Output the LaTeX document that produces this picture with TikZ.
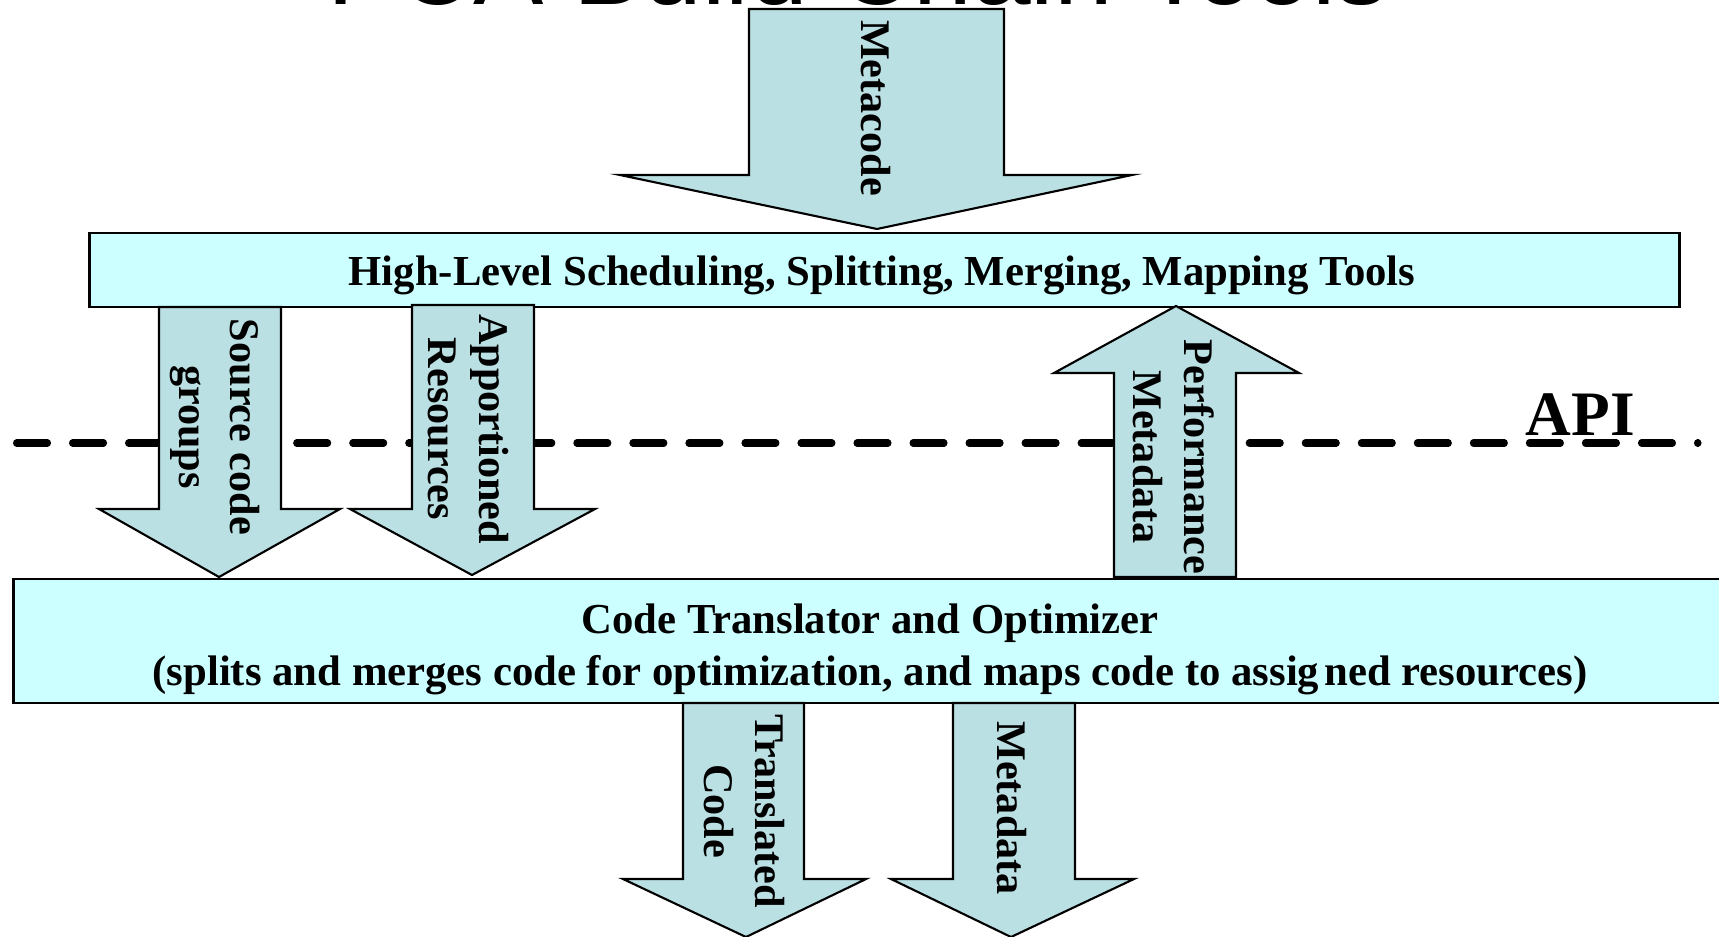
\documentclass[tikz,border=0pt]{standalone}
\usepackage{fontspec}
\setmainfont{Liberation Serif}
\newfontfamily\titlefont{Liberation Sans}
\usepackage{xcolor}
\usepackage{tikz}

\definecolor{boxcyan}{RGB}{204,255,255}
\definecolor{arrowcyan}{RGB}{187,224,227}

\begin{document}
\begin{tikzpicture}[
  x=0.01cm, y=-0.01cm,
  layer/.style={draw, fill=boxcyan, line width=0.6pt, inner sep=0pt},
  layertext/.style={align=center, inner sep=0pt,
    font=\bfseries\fontsize{12.15}{14.6}\selectfont},
  flow/.style={draw, fill=arrowcyan, line width=0.6pt, line join=miter},
  flowtext/.style={rotate=-90, align=center, inner sep=0pt,
    font=\bfseries\fontsize{12}{14.5}\selectfont},
  apiline/.style={line width=2pt, line cap=round, dash pattern=on 0.31cm off 0.25cm}
]
\useasboundingbox (0,0) rectangle (1719,937);
\clip (0,0) rectangle (1719,937);

% title, cut off by the page edge
\node[font=\titlefont\fontsize{30}{30}\selectfont, anchor=base, inner sep=0pt] (title) at (858,5) {PCA Build Chain Tools};

% API boundary
\draw[apiline] (16.5,443) -- (1698,443);
\node[font=\bfseries\fontsize{18}{18}\selectfont, anchor=base west, inner sep=0pt] (api) at (1525,435) {API};

% the two layers
\node[layer, minimum width=15.89cm, minimum height=0.74cm] (hls) at (884.5,270) {};
\node[layertext] (hlstext) at (882,275.5)
  {High-Level Scheduling, Splitting, Merging, Mapping Tools};
\node[layer, minimum width=17.12cm, minimum height=1.24cm] (cto) at (870,641) {};
\node[layertext] (ctotext) at (870,649.5)
  {Code Translator and Optimizer\\(splits and merges code for optimization, and maps code to assig\hspace{0.12em}ned resources)};

% block arrows
\draw[flow] (749,9) -- (749,175) -- (620,175) -- (877,229) -- (1132,175) -- (1004,175) -- (1004,9) -- cycle;
\draw[flow] (159,307) -- (159,509) -- (99,509) -- (219,577) -- (340,509) -- (281,509) -- (281,307) -- cycle;
\draw[flow] (412,305) -- (412,509) -- (350,509) -- (472,575) -- (595,509) -- (534,509) -- (534,305) -- cycle;
\draw[flow] (1114,577) -- (1114,373) -- (1054,373) -- (1176,306) -- (1299,373) -- (1236,373) -- (1236,577) -- cycle;
\draw[flow] (683,703) -- (683,879) -- (623,879) -- (746,937) -- (866,879) -- (804,879) -- (804,703) -- cycle;
\draw[flow] (953,703) -- (953,879) -- (891,879) -- (1011,937) -- (1134,879) -- (1075,879) -- (1075,703) -- cycle;

% arrow labels
\node[flowtext] (metacode) at (876,108) {Metacode};
\node[flowtext] (srcgroups) at (215,427) {Source code\\groups};
\node[flowtext] (apport) at (468,429) {Apportioned\\Resources};
\node[flowtext] (perfmeta) at (1174,457) {Performance\\Metadata};
\node[flowtext] (transcode) at (744,811) {Translated\\Code};
\node[flowtext] (metadata) at (1012,808) {Metadata};
\end{tikzpicture}
\end{document}
